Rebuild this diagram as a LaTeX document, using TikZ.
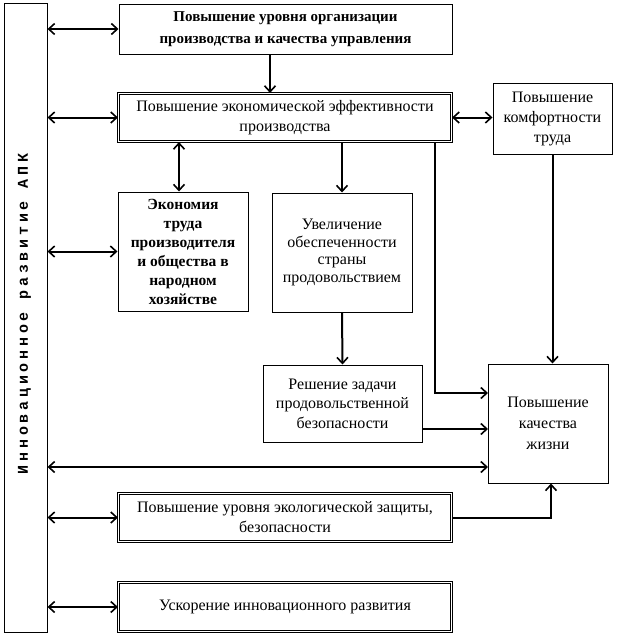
\documentclass[tikz,border=0pt]{standalone}
\usepackage{fontspec}
\setmainfont{Liberation Serif}
\newfontfamily\monob[LetterSpace=25]{Liberation Mono}
\usetikzlibrary{arrows.meta,calc}
\begin{document}
\begin{tikzpicture}[x=1pt,y=-1pt,
  box/.style={draw=black,line width=1pt,fill=white,align=center,inner sep=2pt,font=\fontsize{16}{20}\selectfont},
  dbox/.style={box,double=white,double distance=1.6pt,line width=1.1pt},
  bbox/.style={box,font=\fontsize{15}{22}\selectfont\bfseries},
  tip/.tip={Straight Barb[length=6pt,width=11pt,line width=1.6pt]},
  conn/.style={line width=2pt,-tip},
  dconn/.style={line width=2pt,tip-tip}
]
\useasboundingbox (0,0) rectangle (617,637);
\fill[white] (0,0) rectangle (617,637);

\node[box,minimum width=43pt,minimum height=629pt] (L) at (25.5,317.5) {};
\node[rotate=90,font=\monob\fontsize{15}{16}\selectfont\bfseries] (Lt) at (24.5,314) {Инновационное развитие АПК};

\node[bbox,minimum width=333pt,minimum height=50pt] (b1) at (285.5,29) {Повышение уровня организации\\производства и качества управления};
\node[dbox,minimum width=333pt,minimum height=48pt] (b2) at (285,117.5) {Повышение экономической эффективности\\производства};
\node[box,minimum width=119pt,minimum height=71pt] (komf) at (552.5,118.5) {Повышение\\комфортности\\труда};
\node[bbox,minimum width=130pt,minimum height=119pt,font=\fontsize{15.5}{19}\selectfont\bfseries] (econ) at (183,251.5) {Экономия\\труда\\производителя\\и общества в\\народном\\хозяйстве};
\node[box,minimum width=140pt,minimum height=119pt,font=\fontsize{16}{17.5}\selectfont] (uvel) at (342,252.5) {Увеличение\\обеспеченности\\страны\\продовольствием};
\node[box,minimum width=159pt,minimum height=77pt,font=\fontsize{16}{19.5}\selectfont] (resh) at (342.5,403.5) {Решение задачи\\продовольственной\\безопасности};
\node[box,minimum width=120pt,minimum height=119pt,font=\fontsize{16}{21}\selectfont] (qual) at (548,423.5) {Повышение\\качества\\жизни};
\node[dbox,minimum width=333pt,minimum height=48pt] (b6) at (285,517.5) {Повышение уровня экологической защиты,\\безопасности};
\node[dbox,minimum width=333pt,minimum height=49pt] (b7) at (285,607) {Ускорение инновационного развития};

\coordinate (q1) at (488,393);
\coordinate (q2) at (488,429);
\coordinate (q3) at (488,467);
\coordinate (x1) at (270,0);
\coordinate (x2) at (435,0);
\coordinate (x3) at (179,0);

% left double arrows
\draw[dconn] (L.east |- b1.west) -- (b1.west);
\draw[dconn] (L.east |- b2.west) -- (b2.west);
\draw[dconn] (L.east |- econ.west) -- (econ.west);
\draw[dconn] (L.east |- q3) -- (q3);
\draw[dconn] (L.east |- b6.west) -- (b6.west);
\draw[dconn] (L.east |- b7.west) -- (b7.west);

% internal
\draw[conn] (b1.south -| x1) -- (b2.north -| x1);
\draw[dconn] (b2.south -| x3) -- (econ.north -| x3);
\draw[conn] (b2.south -| uvel.north) -- (uvel.north);
\draw[dconn] (b2.east) -- (komf.west |- b2.east);
\draw[conn] (b2.south -| x2) |- (q1);
\draw[conn] (komf.south) -- (komf.south |- qual.north);
\draw[conn] (uvel.south) -- (resh.north);
\draw[conn] (resh.east |- q2) -- (q2);
\draw[conn] (b6.east) -| ($(qual.south)+(3,0)$);
\end{tikzpicture}
\end{document}
